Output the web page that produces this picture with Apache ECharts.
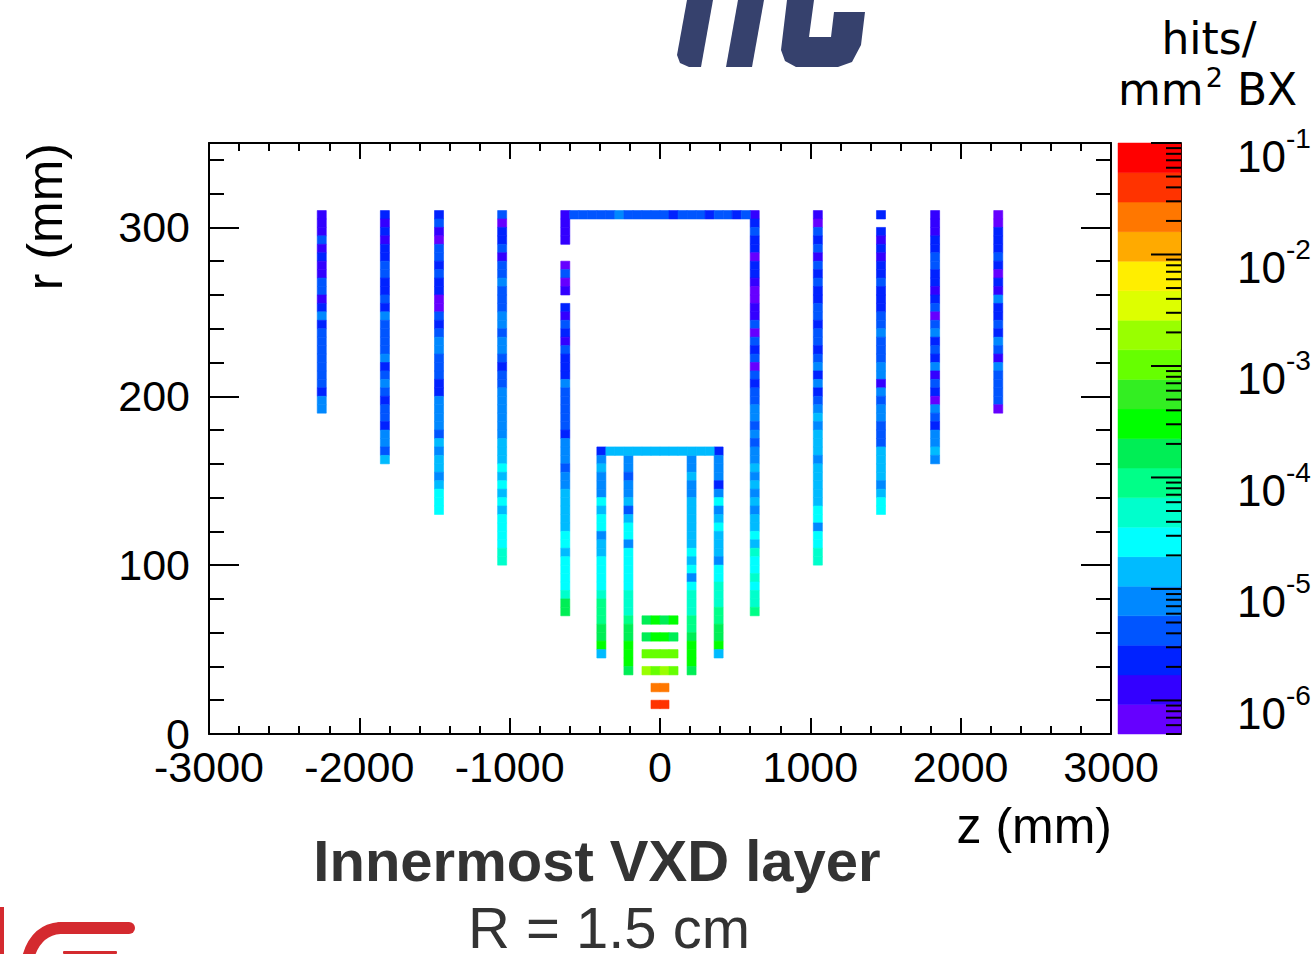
<!DOCTYPE html>
<html>
<head>
<meta charset="utf-8">
<title>Innermost VXD layer</title>
<script src="https://cdn.jsdelivr.net/npm/echarts@6/dist/echarts.min.js"></script>
<style>
    html, body { margin: 0; padding: 0; background: #fff; }
    #Echarts1 { width: 1314px; height: 954px; }
</style>
</head>
<body>
<div id="Echarts1"></div>
<script>
//==================== hits / mm2 BX, r vs z ====================//

/************** data (hits per mm2 per BX, one value per 60 mm x 5 mm bin) ***************/

var zBinWidth = 60;     // mm
var rBinWidth = 5;      // mm

// colour scale range
var zMin = 5e-7;
var zMax = 1e-1;

// outer endcap disks, values from the top bin (r = 310 mm) downwards, null = empty bin
var diskM2250 = [1.3e-6, 1.3e-6, 1.3e-6, 4.2e-6, 1.3e-6, 2.3e-6, 1.3e-6, 1.3e-6, 4.2e-6, 4.2e-6, 1.3e-6, 2.3e-6, 7.8e-6, 2.3e-6, 4.2e-6, 4.2e-6, 4.2e-6, 4.2e-6, 4.2e-6, 4.2e-6, 4.2e-6, 2.3e-6, 7.8e-6, 7.8e-6];
var diskM1830 = [2.3e-6, 1.3e-6, 2.3e-6, 1.3e-6, 2.3e-6, 2.3e-6, 4.2e-6, 4.2e-6, 2.3e-6, 2.3e-6, 4.2e-6, 2.3e-6, 7.8e-6, 4.2e-6, 4.2e-6, 4.2e-6, 4.2e-6, 7.8e-6, 2.3e-6, 4.2e-6, 7.8e-6, 4.2e-6, 2.3e-6, 4.2e-6, 4.2e-6, 2.3e-6, 7.8e-6, 7.8e-6, 4.2e-6, 1.4e-5];
var diskM1470 = [2.3e-6, 4.2e-6, 1.3e-6, 6.8e-7, 4.2e-6, 4.2e-6, 2.3e-6, 4.2e-6, 2.3e-6, 2.3e-6, 6.8e-7, 6.8e-7, 4.2e-6, 2.3e-6, 4.2e-6, 7.8e-6, 7.8e-6, 4.2e-6, 4.2e-6, 4.2e-6, 2.3e-6, 2.3e-6, 7.8e-6, 7.8e-6, 7.8e-6, 7.8e-6, 4.2e-6, 1.4e-5, 7.8e-6, 1.4e-5, 1.4e-5, 7.8e-6, 1.4e-5, 2.6e-5, 2.6e-5, 2.6e-5];
var diskM1050 = [4.2e-6, 6.8e-7, 2.3e-6, 2.3e-6, 4.2e-6, 1.3e-6, 4.2e-6, 4.2e-6, 7.8e-6, 4.2e-6, 4.2e-6, 4.2e-6, 7.8e-6, 7.8e-6, 4.2e-6, 7.8e-6, 7.8e-6, 4.2e-6, 2.3e-6, 4.2e-6, 4.2e-6, 7.8e-6, 7.8e-6, 7.8e-6, 7.8e-6, 7.8e-6, 7.8e-6, 1.4e-5, 1.4e-5, 1.4e-5, 2.6e-5, 1.4e-5, 2.6e-5, 1.4e-5, 2.6e-5, 1.4e-5, 2.6e-5, 2.6e-5, 2.6e-5, 2.6e-5, 4.9e-5, 4.9e-5];
var diskM630 = [1.3e-6, 1.3e-6, 1.3e-6, 1.3e-6, null, null, 6.8e-7, 4.2e-6, 6.8e-7, 1.3e-6, null, 2.3e-6, 1.3e-6, 4.2e-6, 2.3e-6, 1.3e-6, 4.2e-6, 2.3e-6, 2.3e-6, 2.3e-6, 7.8e-6, 4.2e-6, 4.2e-6, 4.2e-6, 4.2e-6, 4.2e-6, 2.3e-6, 7.8e-6, 7.8e-6, 7.8e-6, 4.2e-6, 7.8e-6, 7.8e-6, 1.4e-5, 1.4e-5, 1.4e-5, 1.4e-5, 1.4e-5, 2.6e-5, 2.6e-5, 1.4e-5, 2.6e-5, 2.6e-5, 2.6e-5, 2.6e-5, 4.9e-5, 1.7e-4, 1.7e-4];
var diskP630 = [1.3e-6, 2.3e-6, 4.2e-6, 2.3e-6, 2.3e-6, 6.8e-7, 2.3e-6, 2.3e-6, 1.3e-6, 6.8e-7, 6.8e-7, 1.3e-6, 1.3e-6, 4.2e-6, 6.8e-7, 4.2e-6, 2.3e-6, 4.2e-6, 6.8e-7, 4.2e-6, 2.3e-6, 4.2e-6, 4.2e-6, 7.8e-6, 7.8e-6, 4.2e-6, 7.8e-6, 4.2e-6, 7.8e-6, 7.8e-6, 1.4e-5, 7.8e-6, 1.4e-5, 7.8e-6, 1.4e-5, 7.8e-6, 1.4e-5, 1.4e-5, 2.6e-5, 1.4e-5, 4.9e-5, 2.6e-5, 2.6e-5, 4.9e-5, 2.6e-5, 4.9e-5, 4.9e-5, 9.0e-5];
var diskP1050 = [1.3e-6, 6.8e-7, 4.2e-6, 2.3e-6, 4.2e-6, 1.3e-6, 4.2e-6, 2.3e-6, 4.2e-6, 2.3e-6, 2.3e-6, 4.2e-6, 4.2e-6, 2.3e-6, 4.2e-6, 4.2e-6, 2.3e-6, 4.2e-6, 7.8e-6, 2.3e-6, 7.8e-6, 2.3e-6, 4.2e-6, 7.8e-6, 1.4e-5, 7.8e-6, 1.4e-5, 1.4e-5, 1.4e-5, 7.8e-6, 1.4e-5, 1.4e-5, 1.4e-5, 1.4e-5, 1.4e-5, 2.6e-5, 2.6e-5, 7.8e-6, 2.6e-5, 2.6e-5, 4.9e-5, 4.9e-5];
var diskP1470 = [2.3e-6, null, 2.3e-6, 1.3e-6, 2.3e-6, 1.3e-6, 2.3e-6, 2.3e-6, 4.2e-6, 2.3e-6, 2.3e-6, 2.3e-6, 4.2e-6, 4.2e-6, 7.8e-6, 4.2e-6, 4.2e-6, 4.2e-6, 7.8e-6, 7.8e-6, 1.3e-6, 7.8e-6, 4.2e-6, 7.8e-6, 7.8e-6, 4.2e-6, 4.2e-6, 4.2e-6, 1.4e-5, 1.4e-5, 1.4e-5, 1.4e-5, 7.8e-6, 1.4e-5, 2.6e-5, 2.6e-5];
var diskP1830 = [1.3e-6, 1.3e-6, 1.3e-6, 2.3e-6, 2.3e-6, 4.2e-6, 4.2e-6, 2.3e-6, 2.3e-6, 1.3e-6, 2.3e-6, 4.2e-6, 6.8e-7, 4.2e-6, 7.8e-6, 2.3e-6, 4.2e-6, 2.3e-6, 7.8e-6, 1.3e-6, 4.2e-6, 2.3e-6, 6.8e-7, 7.8e-6, 4.2e-6, 2.3e-6, 7.8e-6, 7.8e-6, 1.4e-5, 7.8e-6];
var diskP2250 = [6.8e-7, 6.8e-7, 2.3e-6, 2.3e-6, 2.3e-6, 4.2e-6, 2.3e-6, 6.8e-7, 2.3e-6, 1.3e-6, 7.8e-6, 2.3e-6, 2.3e-6, 4.2e-6, 2.3e-6, 7.8e-6, 4.2e-6, 1.3e-6, 7.8e-6, 4.2e-6, 4.2e-6, 4.2e-6, 4.2e-6, 6.8e-7];

// inner disks, values from the top bin downwards
var diskM390 = [2.3e-6, 7.8e-6, 1.4e-5, 7.8e-6, 7.8e-6, 7.8e-6, 2.6e-5, 1.4e-5, 2.6e-5, 2.6e-5, 7.8e-6, 1.4e-5, 1.4e-5, 2.6e-5, 2.6e-5, 2.6e-5, 2.6e-5, 4.9e-5, 9.0e-5, 9.0e-5, 9.0e-5, 1.7e-4, 1.7e-4, 3.0e-4, 1.4e-5];
var diskM210 = [7.8e-6, 7.8e-6, 4.2e-6, 7.8e-6, 7.8e-6, 1.4e-5, 4.2e-6, 1.4e-5, 2.6e-5, 2.6e-5, 7.8e-6, 2.6e-5, 2.6e-5, 2.6e-5, 2.6e-5, 2.6e-5, 4.9e-5, 4.9e-5, 4.9e-5, 9.0e-5, 1.7e-4, 1.7e-4, 3.0e-4, 3.0e-4, 3.0e-4, 1.7e-4];
var diskP210 = [7.8e-6, 7.8e-6, 1.4e-5, 7.8e-6, 7.8e-6, 1.4e-5, 1.4e-5, 1.4e-5, 1.4e-5, 1.4e-5, 1.4e-5, 2.6e-5, 1.4e-5, 2.6e-5, 7.8e-6, 2.6e-5, 4.9e-5, 4.9e-5, 4.9e-5, 9.0e-5, 9.0e-5, 1.7e-4, 3.0e-4, 3.0e-4, 3.0e-4, 1.7e-4];
var diskP390 = [2.3e-6, 7.8e-6, 7.8e-6, 7.8e-6, 2.3e-6, 7.8e-6, 2.6e-5, 7.8e-6, 1.4e-5, 2.6e-5, 1.4e-5, 1.4e-5, 1.4e-5, 7.8e-6, 2.6e-5, 2.6e-5, 4.9e-5, 4.9e-5, 4.9e-5, 9.0e-5, 9.0e-5, 1.7e-4, 1.7e-4, 3.0e-4, 1.4e-5];

// barrels, values from the most negative z bin upwards
var barrelOuter = [4.2e-6, 4.2e-6, 4.2e-6, 4.2e-6, 4.2e-6, 7.8e-6, 4.2e-6, 4.2e-6, 4.2e-6, 4.2e-6, 4.2e-6, 2.3e-6, 4.2e-6, 4.2e-6, 4.2e-6, 2.3e-6, 4.2e-6, 4.2e-6, 2.3e-6, 4.2e-6];
var barrelInner = [1.4e-5, 1.4e-5, 1.4e-5, 1.4e-5, 1.4e-5, 1.4e-5, 1.4e-5, 1.4e-5, 1.4e-5, 1.4e-5, 1.4e-5, 1.4e-5];

// vertex detector layers
var vxdR65 = [1.7e-4, 3.0e-4, 1.7e-4, 3.0e-4];
var vxdR55 = [1.7e-4, 3.0e-4, 3.0e-4, 1.7e-4];
var vxdR45 = [1.0e-3, 1.0e-3, 1.0e-3, 1.0e-3];
var vxdR35 = [1.9e-3, 1.0e-3, 1.9e-3, 1.0e-3];
var vxdR25 = [2.2e-2, 2.2e-2];
var vxdR15 = [4.0e-2, 4.0e-2];

// colour bar labels / ticks (log10 of hits/mm2 BX)
var cbarLabelExp = [-1, -2, -3, -4, -5, -6];
var cbarTickExp = [-7, -6, -5, -4, -3, -2, -1];
var cbarTickMant = [1, 2, 3, 4, 5, 6, 7, 8, 9];

// 20 colour levels, low -> high
var palette = ['#6600ff', '#3300ff', '#0022ff', '#0055ff', '#0088ff', '#00bbff', '#00ffff', '#00ffcc',
    '#00ff88', '#00ee55', '#00ff00', '#33ee22', '#66ff00', '#99ff00', '#ddff00', '#ffee00',
    '#ffaa00', '#ff7700', '#ff3300', '#ff0000'];

var numFont = 'Liberation Sans, Arial, sans-serif';


/*************** init *********************/
window.onload = function () {
    initEcharts1();
};


/********************* functions *********************/

// column (disk): fixed z, bins going down from rTop
function addDisk(cells, z, rTop, hits) {
    hits.forEach(function (v, i) {
        if (v !== null) cells.push([z, rTop - rBinWidth * (i + 1), v]);
    });
}

// row (barrel / layer): fixed r, bins going along z from zFirst
function addRow(cells, zFirst, rLow, hits) {
    hits.forEach(function (v, i) {
        if (v !== null) cells.push([zFirst + zBinWidth * i, rLow, v]);
    });
}

function colourOf(v) {
    var lmin = Math.log10(zMin), lmax = Math.log10(zMax);
    var k = Math.floor((Math.log10(v) - lmin) / (lmax - lmin) * palette.length);
    return palette[Math.max(0, Math.min(palette.length - 1, k))];
}

function initEcharts1() {
    var myChart = echarts.init(document.getElementById('Echarts1'), null, { renderer: 'svg' });

    var lmin = Math.log10(zMin), lmax = Math.log10(zMax);
    var step = (lmax - lmin) / palette.length;

    // build the bins
    var cells = [];
    addDisk(cells, -2250, 310, diskM2250);
    addDisk(cells, -1830, 310, diskM1830);
    addDisk(cells, -1470, 310, diskM1470);
    addDisk(cells, -1050, 310, diskM1050);
    addDisk(cells, -630, 310, diskM630);
    addDisk(cells, 630, 310, diskP630);
    addDisk(cells, 1050, 310, diskP1050);
    addDisk(cells, 1470, 310, diskP1470);
    addDisk(cells, 1830, 310, diskP1830);
    addDisk(cells, 2250, 310, diskP2250);
    addDisk(cells, -390, 170, diskM390);
    addDisk(cells, -210, 165, diskM210);
    addDisk(cells, 210, 165, diskP210);
    addDisk(cells, 390, 170, diskP390);
    addRow(cells, -570, 305, barrelOuter);
    addRow(cells, -330, 165, barrelInner);
    addRow(cells, -90, 65, vxdR65);
    addRow(cells, -90, 55, vxdR55);
    addRow(cells, -90, 45, vxdR45);
    addRow(cells, -90, 35, vxdR35);
    addRow(cells, -30, 25, vxdR25);
    addRow(cells, -30, 15, vxdR15);

    // colour bar bands and ticks
    var bands = palette.map(function (c, i) {
        return [lmin + i * step, lmin + (i + 1) * step];
    });
    var cbarTicks = [];
    cbarTickExp.forEach(function (e) {
        cbarTickMant.forEach(function (m) {
            var t = e + Math.log10(m);
            if (t >= lmin - 1e-9 && t <= lmax + 1e-9) cbarTicks.push([1, t, m === 1 ? 1 : 0]);
        });
    });
    var cbarLabels = cbarLabelExp.map(function (e) { return [1, e]; });

    var mainX = {
        type: 'value', gridIndex: 0, min: -3000, max: 3000, interval: 1000,
        axisLine: { onZero: false, lineStyle: { color: '#000', width: 2 } },
        axisTick: { inside: true, length: 16, lineStyle: { color: '#000', width: 2 } },
        minorTick: { show: true, splitNumber: 5, length: 8, lineStyle: { color: '#000', width: 2 } },
        splitLine: { show: false }
    };
    var mainY = {
        type: 'value', gridIndex: 0, min: 0, max: 350, interval: 100,
        axisLine: { onZero: false, lineStyle: { color: '#000', width: 2 } },
        axisTick: { inside: true, length: 30, lineStyle: { color: '#000', width: 2 } },
        minorTick: { show: true, splitNumber: 5, length: 15, lineStyle: { color: '#000', width: 2 } },
        splitLine: { show: false }
    };

    var option = {
        backgroundColor: '#fff',
        animation: false,
        grid: [
            { left: 209, top: 143, width: 902, height: 591 },
            { left: 1118, top: 143, width: 63, height: 591 }
        ],
        xAxis: [
            echarts.util.merge({
                position: 'bottom',
                axisLabel: {
                    fontFamily: numFont, fontSize: 43, color: '#000', margin: 11,
                    formatter: function (v) { return String(v); }
                }
            }, mainX, true),
            echarts.util.merge({ position: 'top', axisLabel: { show: false } }, mainX, true),
            { type: 'value', gridIndex: 1, min: 0, max: 1, show: false }
        ],
        yAxis: [
            echarts.util.merge({
                position: 'left',
                axisLabel: {
                    fontFamily: numFont, fontSize: 43, color: '#000', margin: 19, padding: [22, 0, 0, 0], showMaxLabel: false,
                    formatter: function (v) { return String(v); }
                }
            }, mainY, true),
            echarts.util.merge({ position: 'right', axisLabel: { show: false } }, mainY, true),
            {
                type: 'value', gridIndex: 1, position: 'right', min: lmin, max: lmax,
                axisLine: { show: true, onZero: false, lineStyle: { color: '#000', width: 2 } },
                axisTick: { show: false }, axisLabel: { show: false }, splitLine: { show: false }
            }
        ],
        series: [
            {
                // hit density bins
                type: 'custom', xAxisIndex: 0, yAxisIndex: 0, silent: true,
                encode: { x: 0, y: 1 },
                data: cells,
                renderItem: function (params, api) {
                    var z = api.value(0), r = api.value(1), v = api.value(2);
                    var p0 = api.coord([z - zBinWidth / 2, r + rBinWidth]);
                    var p1 = api.coord([z + zBinWidth / 2, r]);
                    var c = colourOf(v);
                    return {
                        type: 'rect',
                        shape: { x: p0[0], y: p0[1], width: p1[0] - p0[0], height: p1[1] - p0[1] },
                        style: { fill: c, stroke: c, lineWidth: 0.6 }
                    };
                }
            },
            {
                // colour bar
                type: 'custom', xAxisIndex: 2, yAxisIndex: 2, silent: true,
                data: bands,
                renderItem: function (params, api) {
                    var lo = api.value(0), hi = api.value(1);
                    var p0 = api.coord([0, hi]);
                    var p1 = api.coord([1, lo]);
                    return {
                        type: 'rect',
                        shape: { x: p0[0], y: p0[1], width: p1[0] - p0[0], height: p1[1] - p0[1] },
                        style: { fill: palette[params.dataIndex], stroke: palette[params.dataIndex], lineWidth: 0.5 }
                    };
                }
            },
            {
                // colour bar log ticks
                type: 'custom', xAxisIndex: 2, yAxisIndex: 2, silent: true, clip: false,
                encode: { x: 0, y: 1 },
                data: cbarTicks,
                renderItem: function (params, api) {
                    var p = api.coord([api.value(0), api.value(1)]);
                    var len = api.value(2) ? 30 : 15;
                    return {
                        type: 'line',
                        shape: { x1: p[0], y1: p[1], x2: p[0] - len, y2: p[1] },
                        style: { stroke: '#000', lineWidth: 2 }
                    };
                }
            },
            {
                // colour bar labels 10^n
                type: 'custom', xAxisIndex: 2, yAxisIndex: 2, silent: true, clip: false,
                encode: { x: 0, y: 1 },
                data: cbarLabels,
                renderItem: function (params, api) {
                    var e = api.value(1);
                    var p = api.coord([api.value(0), e]);
                    return {
                        type: 'text',
                        x: p[0] + 56, y: p[1] + 13,
                        style: {
                            text: '{b|10}{s|' + e + '}',
                            align: 'left', verticalAlign: 'middle',
                            rich: {
                                b: { fontSize: 44, fontFamily: numFont, fill: '#000', lineHeight: 64 },
                                s: { fontSize: 28, fontFamily: numFont, fill: '#000', lineHeight: 22, verticalAlign: 'top' }
                            }
                        }
                    };
                }
            }
        ],
        graphic: [
            // axis titles
            { type: 'text', x: 45, y: 143, rotation: Math.PI / 2,
              style: { text: 'r (mm)', fontFamily: numFont, fontSize: 50, fill: '#000', align: 'right', verticalAlign: 'middle' } },
            { type: 'text', x: 1112, y: 826,
              style: { text: 'z (mm)', fontFamily: numFont, fontSize: 50, fill: '#000', align: 'right', verticalAlign: 'middle' } },
            // colour bar unit
            { type: 'text', x: 1209, y: 38,
              style: { text: 'hits/', fontFamily: 'DejaVu Sans', fontSize: 44, fill: '#000', align: 'center', verticalAlign: 'middle' } },
            { type: 'text', x: 1118, y: 89,
              style: {
                  text: '{a|mm}{s|2}{a| BX}', align: 'left', verticalAlign: 'middle',
                  rich: {
                      a: { fontFamily: 'DejaVu Sans', fontSize: 44, fill: '#000', lineHeight: 50 },
                      s: { fontFamily: 'DejaVu Sans', fontSize: 27, fill: '#000', lineHeight: 26, verticalAlign: 'top', padding: [0, 0, 0, 2] }
                  }
              } },
            // captions
            { type: 'text', x: 597, y: 860,
              style: { text: 'Innermost VXD layer', fontFamily: numFont, fontWeight: 'bold', fontSize: 58, fill: '#333', align: 'center', verticalAlign: 'middle' } },
            { type: 'text', x: 609, y: 927,
              style: { text: 'R = 1.5 cm', fontFamily: numFont, fontSize: 58, fill: '#333', align: 'center', verticalAlign: 'middle' } },
            // ilc logo (cut off at the top of the slide)
            { type: 'polygon', shape: { points: [[687, 0], [713, 0], [701, 67], [689, 67], [680, 63], [677, 55]] }, style: { fill: '#36416d' } },
            { type: 'polygon', shape: { points: [[738, 0], [764, 0], [752, 67], [726, 67]] }, style: { fill: '#36416d' } },
            { type: 'polygon', shape: { points: [[787, 0], [814, 0], [809, 37], [831, 37], [834, 12], [865, 12], [861, 45], [852, 62], [838, 67], [796, 67], [785, 61], [781, 50]] }, style: { fill: '#36416d' } },
            // red logo piece bottom left
            { type: 'rect', shape: { x: 0, y: 907, width: 4, height: 47 }, style: { fill: '#d42a2f' } },
            { type: 'line', shape: { x1: 129, y1: 928, x2: 60, y2: 928 }, style: { stroke: '#d42a2f', lineWidth: 12, lineCap: 'round' } },
            { type: 'bezierCurve', shape: { x1: 60, y1: 928, cpx1: 34, cpy1: 930, x2: 27, y2: 962 }, style: { fill: null, stroke: '#d42a2f', lineWidth: 12 } },
            { type: 'rect', shape: { x: 63, y: 951, width: 54, height: 3, r: 1 }, style: { fill: '#d42a2f' } }
        ]
    };

    myChart.setOption(option);
}
</script>
</body>
</html>
